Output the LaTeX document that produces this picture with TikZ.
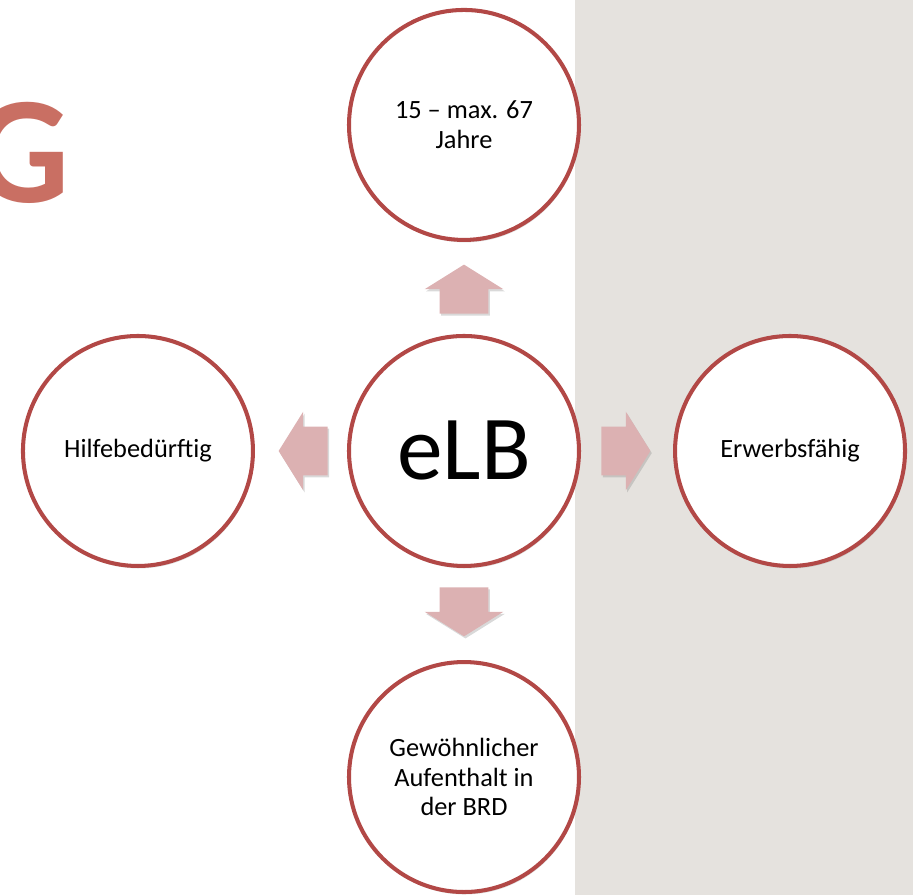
\documentclass[tikz,border=0pt]{standalone}
\usepackage{fontspec}
\setmainfont{Carlito}
\usetikzlibrary{calc,shapes.arrows,positioning,shadows}

\definecolor{ringred}{RGB}{178,72,70}
\definecolor{arrowpink}{RGB}{220,177,178}
\definecolor{titlered}{RGB}{201,111,99}
\definecolor{panelgray}{RGB}{229,226,222}

\begin{document}
\begin{tikzpicture}[
    ring/.style={draw=ringred, line width=2.3pt, circle, fill=white, minimum size=4.6cm, inner sep=0pt, align=center, font=\fontsize{15}{16.8}\selectfont, drop shadow={shadow xshift=0.6pt, shadow yshift=-1.4pt, opacity=0.25}},
    arrowbox/.style={single arrow, fill=arrowpink, anchor=tail, minimum height=0.98cm, single arrow head extend=0.3cm, single arrow tip angle=116, inner xsep=0pt, inner ysep=0.48cm, drop shadow={shadow xshift=0.8pt, shadow yshift=-1.2pt, opacity=0.3}},
    node distance=1.84cm
]

% page and grey panel
\clip (0,0) rectangle (18.26,17.9);
\useasboundingbox (0,0) rectangle (18.26,17.9);
\fill[panelgray] (11.5,0) rectangle (18.26,17.9);

% cut-off title letter
\node[anchor=base east, inner sep=0pt, text=titlered, font=\fontsize{87}{87}\selectfont\bfseries] (title) at (1.4,13.84) {G};

% circles
\node[ring, font=\fontsize{52}{52}\selectfont] (elb) at (9.28,8.88) {eLB};
\node[ring, above=of elb] (age) {15 -- max. 67\\Jahre};
\node[ring, below=of elb] (stay) {Gewöhnlicher\\Aufenthalt in\\der BRD};
\node[ring, left=of elb] (need) {Hilfebedürftig};
\node[ring, right=of elb] (able) {Erwerbsfähig};

% block arrows
\node[arrowbox, rotate=90] (aup) at ($(elb.north)+(0,0.4)$) {};
\node[arrowbox, rotate=-90] (adown) at ($(elb.south)+(0,-0.38)$) {};
\node[arrowbox, rotate=180] (aleft) at ($(elb.west)+(-0.38,0)$) {};
\node[arrowbox] (aright) at ($(elb.east)+(0.4,0)$) {};

\end{tikzpicture}
\end{document}
